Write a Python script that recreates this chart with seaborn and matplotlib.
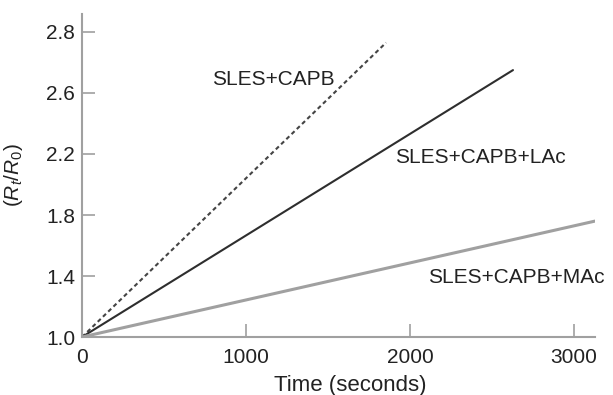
import pandas as pd
import matplotlib
matplotlib.use("Agg")
import matplotlib.pyplot as plt
import seaborn as sns

# valores (escala visual del eje y)
series = ["SLES+CAPB", "SLES+CAPB+LAc", "SLES+CAPB+MAc"]
time_capb = [0, 1854]
ratio_capb = [1.0, 2.93]
time_lac = [0, 2628]
ratio_lac = [1.0, 2.75]
time_mac = [0, 3128]
ratio_mac = [1.0, 1.76]

y_ticks = [1.0, 1.4, 1.8, 2.2, 2.6, 3.0]
y_tick_labels = ["1.0", "1.4", "1.8", "2.2", "2.6", "2.8"]
x_ticks = [0, 1000, 2000, 3000]

df = pd.concat([
    pd.DataFrame({"time": time_capb, "ratio": ratio_capb, "serie": series[0]}),
    pd.DataFrame({"time": time_lac, "ratio": ratio_lac, "serie": series[1]}),
    pd.DataFrame({"time": time_mac, "ratio": ratio_mac, "serie": series[2]}),
])

sns.set_theme(style="ticks")
plt.rcParams["font.family"] = ["Liberation Sans", "DejaVu Sans"]
plt.rcParams["mathtext.fontset"] = "custom"
plt.rcParams["mathtext.rm"] = "Liberation Sans"
plt.rcParams["mathtext.it"] = "Liberation Sans:italic"

fig = plt.figure(figsize=(6.13, 3.95), dpi=100)
ax = fig.add_axes([0.1338, 0.1468, 0.9706 - 0.1338, 0.9646 - 0.1468])

colores = {series[0]: "#444444", series[1]: "#2e2e2e", series[2]: "#a0a0a0"}
estilos = {series[0]: (2, 1.5), series[1]: "", series[2]: ""}
sns.lineplot(data=df, x="time", y="ratio", hue="serie", style="serie",
             palette=colores, dashes=estilos, legend=False, ax=ax)
for linea, lw in zip(ax.lines, [1.5, 1.5, 2.2]):
    linea.set_linewidth(lw)

ax.set_xlim(0, 3128)
ax.set_ylim(1.0, 3.118)
ax.set_xticks(x_ticks)
ax.set_yticks(y_ticks)
ax.set_yticklabels(y_tick_labels)

ax.text(1165, 2.69, series[0], ha="center", va="center", fontsize=15, color="#222222")
ax.text(2427, 2.174, series[1], ha="center", va="center", fontsize=15, color="#222222")
ax.text(2649, 1.393, series[2], ha="center", va="center", fontsize=15, color="#222222")

ax.set_xlabel("Time (seconds)", fontsize=16, color="#222222")
ax.set_ylabel(r"$(R_t/R_0)$", fontsize=15, color="#222222")
ax.xaxis.set_label_coords(0.522, -0.118)
ax.yaxis.set_label_coords(-0.111, 0.5)

sns.despine(ax=ax)
for lado in ["left", "bottom"]:
    ax.spines[lado].set_color("#a0a0a0")
    ax.spines[lado].set_linewidth(1.5)
ax.tick_params(axis="both", direction="in", length=9.5, width=1.2, color="#a0a0a0",
               labelsize=15, labelcolor="#222222")
ax.tick_params(axis="y", pad=5)
ax.tick_params(axis="x", pad=8)

fig.savefig("out.png", dpi=100)
